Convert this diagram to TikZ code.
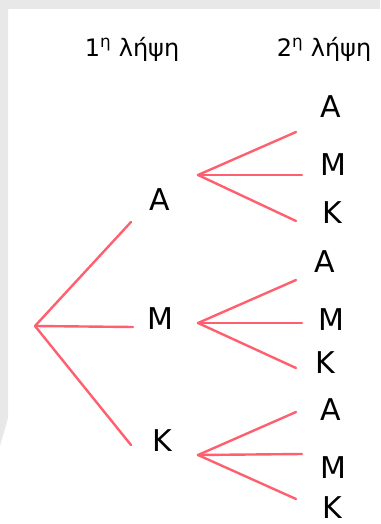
\documentclass[tikz,border=0pt]{standalone}
\usepackage{fontspec}
\setmainfont{DejaVu Sans}
\usetikzlibrary{calc}
\definecolor{branchred}{RGB}{255,96,112}
\definecolor{framegray}{RGB}{232,232,232}

\begin{document}
\begin{tikzpicture}[x=1pt,y=-1pt,
  branch/.style={branchred, line width=2.4pt, line cap=round},
  letter/.style={inner sep=0pt, font=\fontsize{30}{36}\selectfont},
  header/.style={inner sep=0pt, anchor=base, font=\fontsize{24}{28}\selectfont}]
\useasboundingbox (0,0) rectangle (380,524);
\fill[white] (0,0) rectangle (380,524);
% grey frame on the left and top
\fill[framegray] (0,0) -- (380,0) -- (380,9) -- (8,9) -- (8,418) -- (0,446) -- cycle;
% headers
\node[header] (draw1) at (132,57) {1\textsuperscript{η} λήψη};
\node[header] (draw2) at (324,57) {2\textsuperscript{η} λήψη};
% first draw
\coordinate (root) at (35,326);
\coordinate (endA) at (131,222);
\coordinate (endM) at (133,327);
\coordinate (endK) at (131,445);
\draw[branch] (root) -- (endA);
\draw[branch] (root) -- (endM);
\draw[branch] (root) -- (endK);
\node[letter] (A) at (160,200) {A};
\node[letter] (M) at (160,319) {M};
\node[letter] (K) at (162,441) {K};
% second draw
\coordinate (fanA) at (198,175);
\coordinate (fanM) at (198,323);
\coordinate (fanK) at (198,455);
\coordinate (AA) at (296,132);
\coordinate (AM) at (302,175);
\coordinate (AK) at (296,221);
\coordinate (MA) at (296,280);
\coordinate (MM) at (302,323);
\coordinate (MK) at (296,368);
\coordinate (KA) at (296,412);
\coordinate (KM) at (302,454);
\coordinate (KK) at (296,499);
\draw[branch] (fanA) -- (AA);
\draw[branch] (fanA) -- (AM);
\draw[branch] (fanA) -- (AK);
\draw[branch] (fanM) -- (MA);
\draw[branch] (fanM) -- (MM);
\draw[branch] (fanM) -- (MK);
\draw[branch] (fanK) -- (KA);
\draw[branch] (fanK) -- (KM);
\draw[branch] (fanK) -- (KK);
\node[letter] (AAl) at (331,107) {A};
\node[letter] (AMl) at (333,165) {M};
\node[letter] (AKl) at (332,213) {K};
\node[letter] (MAl) at (325,262) {A};
\node[letter] (MMl) at (331,320) {M};
\node[letter] (MKl) at (325,363) {K};
\node[letter] (KAl) at (331,410) {A};
\node[letter] (KMl) at (333,468) {M};
\node[letter] (KKl) at (332,508) {K};
\end{tikzpicture}
\end{document}
